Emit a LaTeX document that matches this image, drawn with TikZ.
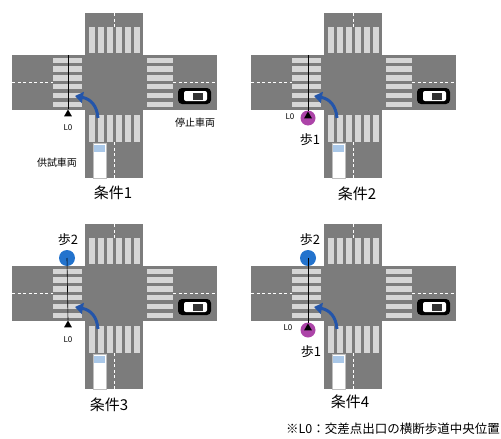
\documentclass[tikz,border=0pt]{standalone}
\usepackage{fontspec}
\setmainfont{Noto Sans CJK JP}
\usetikzlibrary{arrows.meta,shapes.geometric}

\definecolor{roadgray}{RGB}{124,124,124}
\definecolor{zebragray}{RGB}{214,214,214}
\definecolor{turnblue}{RGB}{35,85,170}
\definecolor{walkblue}{RGB}{35,115,205}
\definecolor{walkpink}{RGB}{172,68,168}
\definecolor{glassblue}{RGB}{170,200,232}

\tikzset{
  road/.style={fill=roadgray},
  zebra/.style={fill=zebragray},
  lane/.style={white,line width=0.8pt,dash pattern=on 3pt off 2.5pt},
  lzero/.style={black,line width=0.6pt},
  lzeromark/.style={regular polygon,regular polygon sides=3,fill=black,
    minimum size=9pt,inner sep=0pt},
  leftturn/.style={turnblue,line width=3pt,-{Triangle[width=11pt,length=8pt]}},
  cond/.style={font=\fontsize{15}{15}\selectfont},
  cartag/.style={font=\fontsize{10}{10}\selectfont},
  walker/.style={font=\fontsize{13}{13}\selectfont},
  lzerotag/.style={font=\fontsize{8}{8}\selectfont},
  walkone/.style={circle,fill=walkpink,minimum size=15pt,inner sep=0pt},
  walktwo/.style={circle,fill=walkblue,minimum size=16pt,inner sep=0pt},
}

% one crossroad, drawn in its own local frame
\newcommand{\crossroad}{%
  \fill[road] (85,13) rectangle (143,178);
  \fill[road] (12,55) rectangle (217,110);
  \foreach \k in {0,...,5}{
    \fill[zebra] (88.5+9*\k,27) rectangle ++(6,26);
    \fill[zebra] (88.5+9*\k,115) rectangle ++(6,27);
    \fill[zebra] (53,57.5+8.8*\k) rectangle ++(29,5.5);
    \fill[zebra] (147,57.5+8.8*\k) rectangle ++(26,5.5);
  }
  \draw[lane] (12,82.5)--(53,82.5);
  \draw[lane] (173,82.5)--(217,82.5);
  \draw[lane] (114,13)--(114,27);
  \draw[lane] (114,142)--(114,178);
  % stopped car
  \fill[black,rounded corners=4pt] (178,88) rectangle (211,104);
  \fill[white,rounded corners=2pt] (184,91) rectangle (207,101);
  \fill[black!80] (193,92.5) rectangle (203,99.5);
  % test vehicle
  \fill[white,draw=gray!50] (93,143) rectangle (106,178);
  \fill[glassblue] (94,145) rectangle (105,152);
  % left turn
  \draw[leftturn] (98,118) .. controls (97,106) and (91,99) .. (75,96);
}

\begin{document}
\begin{tikzpicture}[x=1pt,y=-1pt]
\clip (0,0) rectangle (501,439);
\fill[white] (0,0) rectangle (501,439);

% condition 1
\begin{scope}
\crossroad
\node[lzeromark] (foot1) at (68,114) {};
\coordinate (top1) at (68,55);
\draw[lzero] (top1)--(foot1.north);
\node[lzerotag] (lz1) at (68,128) {L0};
\node[cartag] (stop1) at (195,123) {停止車両};
\node[cartag] (test1) at (57,163) {供試車両};
\node[cond] (cond1) at (113,193) {条件1};
\end{scope}

% condition 2
\begin{scope}[shift={(239,0)}]
\crossroad
\node[walkone] (ped2a) at (69,118) {};
\node[lzeromark] (foot2) at (69,116) {};
\coordinate (top2) at (69,55);
\draw[lzero] (top2)--(foot2.north);
\node[lzerotag] (lz2) at (51,117) {L0};
\node[walker] (w2a) at (71,140) {歩1};
\node[cond] (cond2) at (118,194) {条件2};
\end{scope}

% condition 3
\begin{scope}[shift={(0,211)}]
\crossroad
\node[walktwo] (ped3b) at (67,47) {};
\node[lzeromark] (foot3) at (68,114) {};
\draw[lzero] (ped3b.center)--(foot3.north);
\node[lzerotag] (lz3) at (68,129) {L0};
\node[walker] (w3b) at (68,29) {歩2};
\node[cond] (cond3) at (109,194) {条件3};
\end{scope}

% condition 4
\begin{scope}[shift={(239,211)}]
\crossroad
\node[walktwo] (ped4b) at (69,47) {};
\node[walkone] (ped4a) at (69,119) {};
\node[lzeromark] (foot4) at (69,117) {};
\draw[lzero] (ped4b.center)--(foot4.north);
\node[lzerotag] (lz4) at (49,117) {L0};
\node[walker] (w4b) at (71,29) {歩2};
\node[walker] (w4a) at (72,141) {歩1};
\node[cond] (cond4) at (111,191) {条件4};
\end{scope}

\node[anchor=east,font=\fontsize{12.5}{13}\selectfont,inner sep=0pt] (note) at (500,429)
  {※L0：交差点出口の横断歩道中央位置};
\end{tikzpicture}
\end{document}
